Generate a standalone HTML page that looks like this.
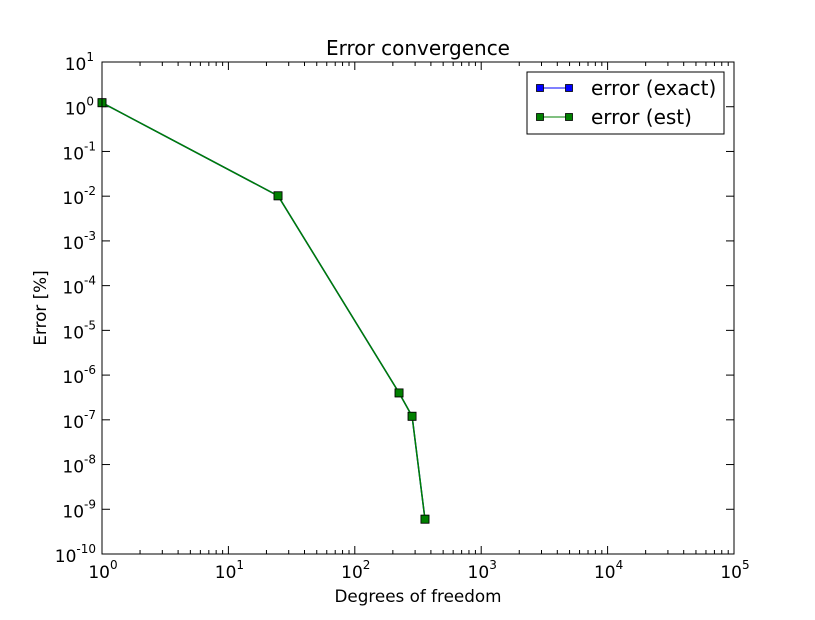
<!DOCTYPE html>
<html><head><meta charset="utf-8"><style>
body{margin:0;background:#fff;}
svg text{font-family:"DejaVu Sans","Liberation Sans",sans-serif;fill:#000;}
</style></head><body>
<svg id="chart" width="815" height="615" xmlns="http://www.w3.org/2000/svg">
<rect width="815" height="615" fill="#fff"/>
<g id="ticks"></g>
<g id="series"></g>
<rect x="102" y="62" width="632" height="492" fill="none" stroke="#000" stroke-width="1"/>
<text x="418" y="55" font-size="20" text-anchor="middle">Error convergence</text>
<text x="418" y="602" font-size="16.8" text-anchor="middle">Degrees of freedom</text>
<text x="46" y="308" font-size="16.8" text-anchor="middle" transform="rotate(-90 46 308)">Error [%]</text>
<g>
<rect x="527" y="72" width="197" height="62" fill="#fff" stroke="#000"/>
<g>
<line x1="540" y1="88" x2="569" y2="88" stroke="#0000ff"/>
<rect x="536.5" y="84.5" width="7" height="7" fill="#0000ff" stroke="#000" stroke-width="0.8"/>
<rect x="565.5" y="84.5" width="7" height="7" fill="#0000ff" stroke="#000" stroke-width="0.8"/>
<text x="591" y="95" font-size="20">error (exact)</text>
</g>
<g>
<line x1="540" y1="117" x2="569" y2="117" stroke="#008000"/>
<rect x="536.5" y="113.5" width="7" height="7" fill="#008000" stroke="#000" stroke-width="0.8"/>
<rect x="565.5" y="113.5" width="7" height="7" fill="#008000" stroke="#000" stroke-width="0.8"/>
<text x="591" y="124" font-size="20">error (est)</text>
</g>
</g>
</svg>
<script>
const dofs = [1, 24.7, 224, 284, 359];
const errExact = [1.23, 0.0102, 4.0e-7, 1.2e-7, 6.0e-10];
const errEst = [1.23, 0.0102, 4.0e-7, 1.2e-7, 6.0e-10];
const xDecades = [0, 1, 2, 3, 4, 5];
const yDecades = [-10, -9, -8, -7, -6, -5, -4, -3, -2, -1, 0, 1];

const L=102,R=734,T=62,B=554;
const NS="http://www.w3.org/2000/svg";
function xs(v){return L+(Math.log10(v)-0)/5*(R-L);}
function ys(v){return B-(Math.log10(v)+10)/11*(B-T);}
function mk(tag,attrs,parent){const e=document.createElementNS(NS,tag);for(const k in attrs)e.setAttribute(k,attrs[k]);parent.appendChild(e);return e;}
const tg=document.getElementById('ticks');
function sup(parent,x,y,anchor,exp,fs){
  const t=mk('text',{x:x,y:y,'font-size':fs,'text-anchor':anchor},parent);
  
  
  const a=document.createElementNS(NS,'tspan');a.textContent='10';t.appendChild(a);
  const b=document.createElementNS(NS,'tspan');b.setAttribute('dy','-9');b.setAttribute('font-size','12');b.textContent=exp;t.appendChild(b);
}
xDecades.forEach(d=>{
  const x=L+d/5*(R-L);
  const l1=mk('line',{x1:x,y1:B,x2:x,y2:B-8,stroke:'#000'},tg);
  
  
  mk('line',{x1:x,y1:T,x2:x,y2:T+8,stroke:'#000'},tg);
  sup(tg,x+1,B+24,'middle',String(d),17);
  if(d<5){for(let m=2;m<10;m++){const xm=xs(Math.pow(10,d)*m);
    mk('line',{x1:xm,y1:B,x2:xm,y2:B-4,stroke:'#000'},tg);
    mk('line',{x1:xm,y1:T,x2:xm,y2:T+4,stroke:'#000'},tg);}}
});
yDecades.forEach(d=>{
  const y=ys(Math.pow(10,d));
  const l1=mk('line',{x1:L,y1:y,x2:L+8,y2:y,stroke:'#000'},tg);
  
  
  mk('line',{x1:R,y1:y,x2:R-8,y2:y,stroke:'#000'},tg);
  sup(tg,d<0?96:94,y+8,'end',String(d),17);
});
const sg=document.getElementById('series');
function drawSeries(vals,color,name){
  const g=mk('g',{},sg);
  
  
  const pts=dofs.map((d,i)=>xs(d)+','+ys(vals[i])).join(' ');
  mk('polyline',{points:pts,fill:'none',stroke:color,'stroke-width':1.5},g);
  dofs.forEach((d,i)=>{
    const r=mk('rect',{x:xs(d)-4,y:ys(vals[i])-4,width:8,height:8,fill:color,stroke:'#000','stroke-width':0.8},g);
    
    
  });
}
drawSeries(errExact,'#0000ff','series-error-exact');
drawSeries(errEst,'#008000','series-error-est');
</script>
</body></html>
